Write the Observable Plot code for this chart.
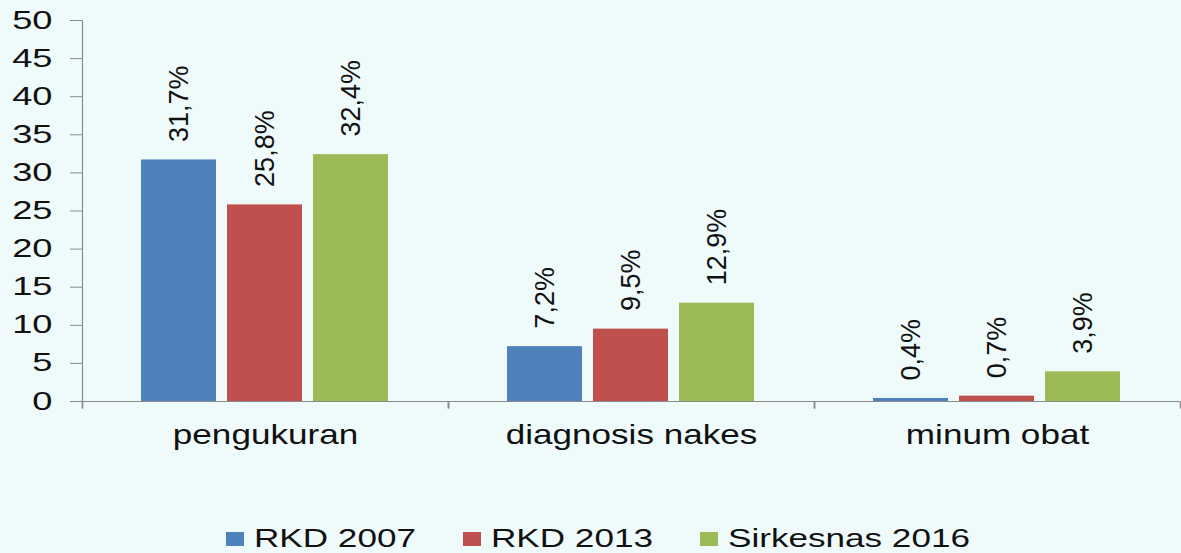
<!DOCTYPE html>
<html>
<head>
<meta charset="utf-8">
<script src="https://cdn.jsdelivr.net/npm/d3@7"></script>
<script src="https://cdn.jsdelivr.net/npm/@observablehq/plot@0.6"></script>
<style>
  html, body { margin: 0; padding: 0; background: #effafb; }
  body { width: 1181px; height: 553px; position: relative; overflow: hidden; font-family: "Liberation Sans", Arial, sans-serif; }
  #legend { position: absolute; left: 0; top: 525px; width: 1181px; display: flex; justify-content: center; padding-left: 15px; box-sizing: border-box; }
  .item { display: flex; align-items: flex-start; margin-right: 47px; }
  .item:last-child { margin-right: 0; }
  .sw { width: 18px; height: 14px; margin-top: 7px; margin-right: 10px; }
  .lab { display: inline-block; font-size: 26px; line-height: 26px; color: #111; transform-origin: left center; white-space: nowrap; }
</style>
</head>
<body>
<div id="chart"></div>
<div id="legend"></div>
<script>
const categories = ["pengukuran", "diagnosis nakes", "minum obat"];
const series = ["RKD 2007", "RKD 2013", "Sirkesnas 2016"];
const colors = ["#4f81bd", "#c0504d", "#9bbb59"];
const rkd2007 = [31.7, 7.2, 0.4];
const rkd2013 = [25.8, 9.5, 0.7];
const sirkesnas2016 = [32.4, 12.9, 3.9];
const yTicks = [0, 5, 10, 15, 20, 25, 30, 35, 40, 45, 50];

const seriesValues = [rkd2007, rkd2013, sirkesnas2016];
const data = [];
categories.forEach((c, i) => {
  series.forEach((s, j) => {
    const v = seriesValues[j][i];
    data.push({category: c, series: s, value: v, label: v.toFixed(1).replace(".", ",") + "%"});
  });
});

const W = 1181, H = 470, MT = 20, MB = 69, ML = 82, MR = 1;
const frameH = H - MT - MB;
const axisGray = "#8a8a8a";
const vtick = {draw(ctx) { ctx.moveTo(0, 0); ctx.lineTo(0, 7); }};
const vaxis = {draw(ctx) { ctx.moveTo(0, 7); ctx.lineTo(0, -frameH); }};

const chart = Plot.plot({
  width: W,
  height: H,
  marginTop: MT,
  marginBottom: MB,
  marginLeft: ML,
  marginRight: MR,
  style: {background: "#effafb", fontFamily: "\"Liberation Sans\", Arial, sans-serif", color: "#111"},
  fx: {domain: categories, padding: 0, label: null},
  x: {domain: series, paddingInner: 0.126, paddingOuter: 0.667, axis: null},
  y: {domain: [0, 50], label: null},
  color: {domain: series, range: colors},
  marks: [
    Plot.axisY({ticks: yTicks, tickSize: 12, tickPadding: 18, fontSize: 25, stroke: axisGray, label: null, tickFormat: d => String(d)}),
    Plot.axisFx({anchor: "bottom", tickSize: 0, tickPadding: 23, fontSize: 27, label: null}),
    Plot.barY(data, {fx: "category", x: "series", y: "value", fill: "series"}),
    Plot.ruleY([0], {stroke: axisGray, strokeWidth: 1.2}),
    Plot.dot([{category: categories[0]}], {fx: "category", frameAnchor: "bottom-left", symbol: vaxis, stroke: axisGray, strokeWidth: 1.2, r: 1}),
    Plot.dot([0], {frameAnchor: "bottom-left", symbol: vtick, stroke: axisGray, r: 1}),
    Plot.dot([0], {frameAnchor: "bottom-right", symbol: vtick, stroke: axisGray, r: 1}),
    Plot.text(data, {fx: "category", x: "series", y: "value", text: "label", rotate: -90, textAnchor: "start", dy: -18, fontSize: 27, fill: "#111", ariaLabel: "bar-label"})
  ]
});
document.getElementById("chart").appendChild(chart);

// horizontal stretch of text glyphs, as in the reference
function stretch(root, selector, s) {
  root.querySelectorAll(selector).forEach(t => {
    const tr = t.getAttribute("transform") || "";
    const m = tr.match(/translate\(\s*([-\d.e]+)[ ,]+([-\d.e]+)\s*\)/);
    let X = m ? +m[1] : 0;
    X += +(t.getAttribute("x") || 0);
    const g = document.createElementNS("http://www.w3.org/2000/svg", "g");
    g.setAttribute("transform", `translate(${X},0) scale(${s},1) translate(${-X},0)`);
    t.parentNode.insertBefore(g, t);
    g.appendChild(t);
  });
}
stretch(chart, 'g[aria-label="y-axis tick label"] text', 1.45);
stretch(chart, 'g[aria-label="fx-axis tick label"] text', 1.3);
stretch(chart, 'g[aria-label="bar-label"] text', 1.33);

// legend
const legend = document.getElementById("legend");
series.forEach((s, i) => {
  const item = document.createElement("div");
  item.className = "item";
  const sw = document.createElement("div");
  sw.className = "sw";
  sw.style.background = colors[i];
  const lab = document.createElement("span");
  lab.className = "lab";
  lab.textContent = s;
  item.appendChild(sw);
  item.appendChild(lab);
  legend.appendChild(item);
});
const k = 1.35;
legend.querySelectorAll(".lab").forEach(l => {
  const w = l.getBoundingClientRect().width;
  l.style.transform = `scaleX(${k})`;
  l.style.marginRight = ((k - 1) * w) + "px";
});
</script>
</body>
</html>
